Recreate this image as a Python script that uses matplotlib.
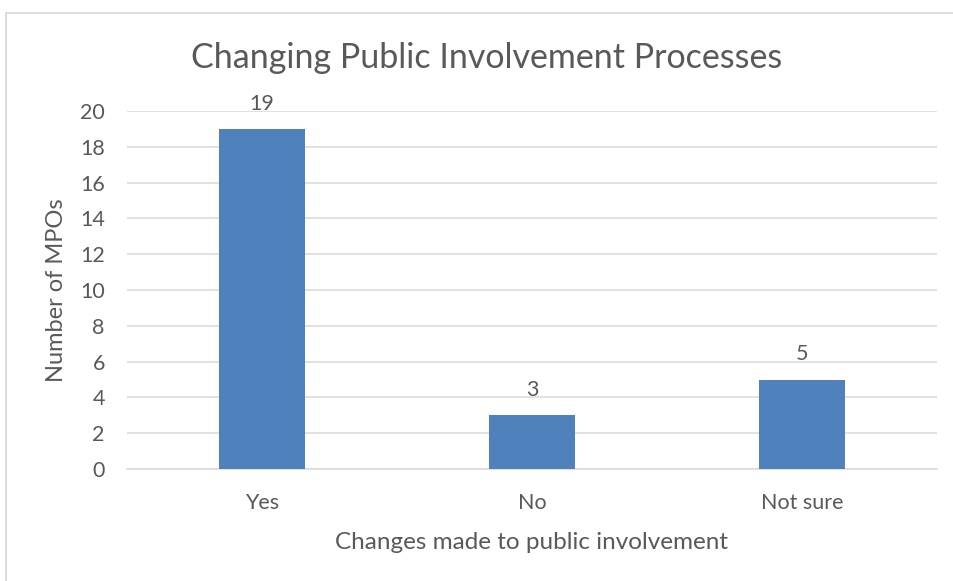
import matplotlib
matplotlib.use('Agg')
import matplotlib.pyplot as plt
from matplotlib.lines import Line2D

# ── Données ─────────────────────────────────────────────
categories = ['Yes', 'No', 'Not sure']
counts = [19, 3, 5]
y_ticks = [0, 2, 4, 6, 8, 10, 12, 14, 16, 18, 20]

plt.rcParams['font.family'] = ['Lato', 'DejaVu Sans']
txt = '#595959'
grid = '#d9d9d9'

fig = plt.figure(figsize=(9.54, 5.81), dpi=100)
ax = fig.add_axes([127 / 954, 112 / 581, 810 / 954, 358 / 581])

x = range(len(categories))
bars = ax.bar(x, counts, width=0.315, color='#4f81bd', zorder=3)
for b, v in zip(bars, counts):
    ax.annotate(str(v), (b.get_x() + b.get_width() / 2, v),
                xytext=(0, 11), textcoords='offset points',
                ha='center', va='bottom', fontsize=15.5, color=txt)

ax.set_xlim(-0.5, len(categories) - 0.5)
ax.set_ylim(0, 20)
ax.set_yticks(y_ticks)
ax.set_xticks(list(x))
ax.set_xticklabels(categories)
ax.yaxis.grid(True, color=grid, linewidth=1.1, zorder=0)
ax.set_axisbelow(True)
for s in ['top', 'right', 'left']:
    ax.spines[s].set_visible(False)
ax.spines['bottom'].set_color(grid)
ax.spines['bottom'].set_linewidth(1.1)
ax.tick_params(axis='both', length=0, labelsize=15.5, labelcolor=txt)
ax.tick_params(axis='y', pad=16)
ax.tick_params(axis='x', pad=17)

ax.set_xlabel('Changes made to public involvement', fontsize=17.5,
              color=txt, labelpad=14)
ax.set_ylabel('Number of MPOs', fontsize=17, color=txt, labelpad=9)
fig.text(487 / 954, 1 - 58.5 / 581, 'Changing Public Involvement Processes',
         ha='center', va='center', fontsize=24.5, color=txt)

# cadre du graphique
fig.add_artist(Line2D([6.5 / 954, 6.5 / 954, 1.0], [0.0, 1 - 12.5 / 581, 1 - 12.5 / 581],
                      transform=fig.transFigure, color='#d9d9d9', linewidth=1.3))

fig.savefig('out.png', dpi=100)
